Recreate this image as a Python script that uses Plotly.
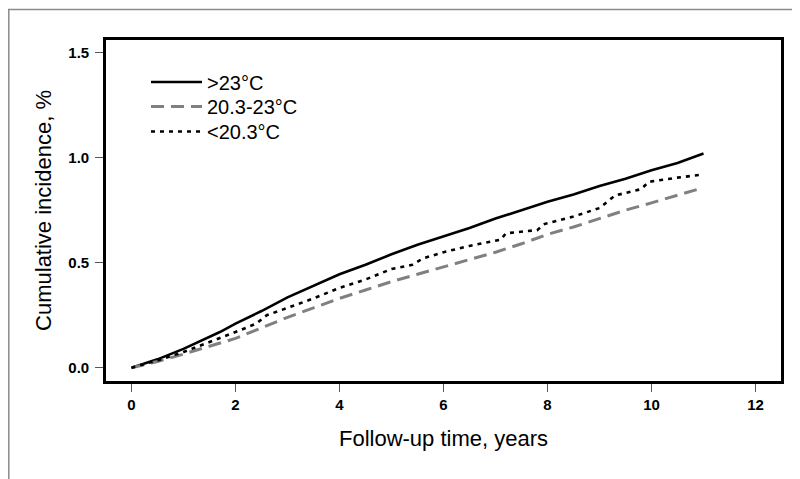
import plotly.graph_objects as go

# Data
t_hi = [0, 0.5, 1, 1.7, 2, 2.5, 3, 3.5, 4, 4.5, 5, 5.5, 6, 6.5, 7, 7.5, 8, 8.5, 9, 9.5, 10, 10.5, 11]
y_hi = [0, 0.04, 0.09, 0.17, 0.21, 0.27, 0.335, 0.39, 0.445, 0.49, 0.54, 0.585, 0.625, 0.665, 0.71, 0.75, 0.79, 0.825, 0.865, 0.9, 0.94, 0.975, 1.02]

t_mid = [0, 0.5, 1, 1.7, 2, 2.5, 3, 3.5, 4, 4.5, 5, 5.5, 6, 6.5, 7, 7.5, 8, 8.5, 9, 9.5, 10, 10.5, 10.9]
y_mid = [0, 0.03, 0.065, 0.115, 0.14, 0.19, 0.24, 0.285, 0.33, 0.37, 0.41, 0.445, 0.48, 0.515, 0.55, 0.59, 0.635, 0.67, 0.71, 0.75, 0.785, 0.82, 0.85]

t_lo = [0, 0.5, 1, 1.7, 2, 2.4, 2.6, 3, 3.5, 4, 4.5, 5, 5.4, 5.6, 6, 6.5, 7.1, 7.2, 7.8, 7.95, 8.5, 9, 9.3, 9.8, 9.95, 10.5, 11]
y_lo = [0, 0.035, 0.075, 0.14, 0.17, 0.21, 0.25, 0.285, 0.33, 0.38, 0.42, 0.47, 0.49, 0.52, 0.55, 0.58, 0.61, 0.64, 0.655, 0.685, 0.72, 0.76, 0.82, 0.85, 0.885, 0.905, 0.92]

names = [">23°C", "20.3-23°C", "<20.3°C"]
x_ticks = [0, 2, 4, 6, 8, 10, 12]
y_ticks = [0.0, 0.5, 1.0, 1.5]
y_tick_text = ["0.0", "0.5", "1.0", "1.5"]

FONT = "Arial, Liberation Sans, sans-serif"

fig = go.Figure()
fig.add_trace(go.Scatter(x=t_hi, y=y_hi, mode="lines", name=names[0], legend="legend",
                         line=dict(color="black", width=2.6)))
fig.add_trace(go.Scatter(x=t_mid, y=y_mid, mode="lines", name=names[1], legend="legend2",
                         line=dict(color="#808080", width=3, dash="13px,7px")))
fig.add_trace(go.Scatter(x=t_lo, y=y_lo, mode="lines", name=names[2], legend="legend3",
                         line=dict(color="black", width=2.6, dash="4px,5px")))

# page offset: the browser body has an 8px margin
OFF = 8
PAGE_W, PAGE_H = 800, 479
W, H = PAGE_W - OFF, PAGE_H - OFF
L, R, T, B = 106, 781, 40, 381   # plot frame in page pixels
pw, ph = R - L, B - T


def px_x(px):
    return (px - L) / pw


def px_y(py):
    return (B - py) / ph


# outer gray frame (top and left edges only)
shapes = [
    dict(type="line", xref="paper", yref="paper", x0=px_x(8), x1=px_x(800),
         y0=px_y(9.5), y1=px_y(9.5), line=dict(color="#8a8a8a", width=1.5)),
    dict(type="line", xref="paper", yref="paper", x0=px_x(8.8), x1=px_x(8.8),
         y0=px_y(9.5), y1=px_y(479), line=dict(color="#8a8a8a", width=1.5)),
]


def leg(top_px):
    return dict(x=px_x(146), y=px_y(top_px), xanchor="left", yanchor="top",
                bgcolor="rgba(0,0,0,0)", borderwidth=0,
                font=dict(size=20, family=FONT), itemwidth=51)


fig.update_layout(
    width=W, height=H,
    margin=dict(l=L - OFF, r=PAGE_W - R, t=T - OFF, b=PAGE_H - B, pad=0, autoexpand=False),
    paper_bgcolor="white", plot_bgcolor="white",
    font=dict(family=FONT, color="black"),
    showlegend=True,
    legend=leg(62.5),
    legend2=leg(87),
    legend3=leg(112),
    shapes=shapes,
    xaxis=dict(range=[-0.49, 12.49], tickmode="array", tickvals=x_ticks,
               ticktext=[str(v) for v in x_ticks],
               showgrid=False, zeroline=False,
               showline=True, linecolor="black", linewidth=2.6, mirror=True,
               ticks="outside", ticklen=8, tickwidth=1.2, tickcolor="#555",
               tickfont=dict(size=15, family=FONT, weight="bold"),
               title=dict(text="Follow-up time, years", font=dict(size=22, family=FONT), standoff=19)),
    yaxis=dict(range=[-0.063, 1.56], tickmode="array", tickvals=y_ticks,
               ticktext=y_tick_text,
               showgrid=False, zeroline=False,
               showline=True, linecolor="black", linewidth=2.6, mirror=True,
               ticks="outside", ticklen=8, tickwidth=1.2, tickcolor="#555",
               ticklabelstandoff=3,
               tickfont=dict(size=15, family=FONT, weight="bold"),
               title=dict(text="Cumulative incidence, %", font=dict(size=22, family=FONT), standoff=11)),
)

fig.write_html("out.html")
